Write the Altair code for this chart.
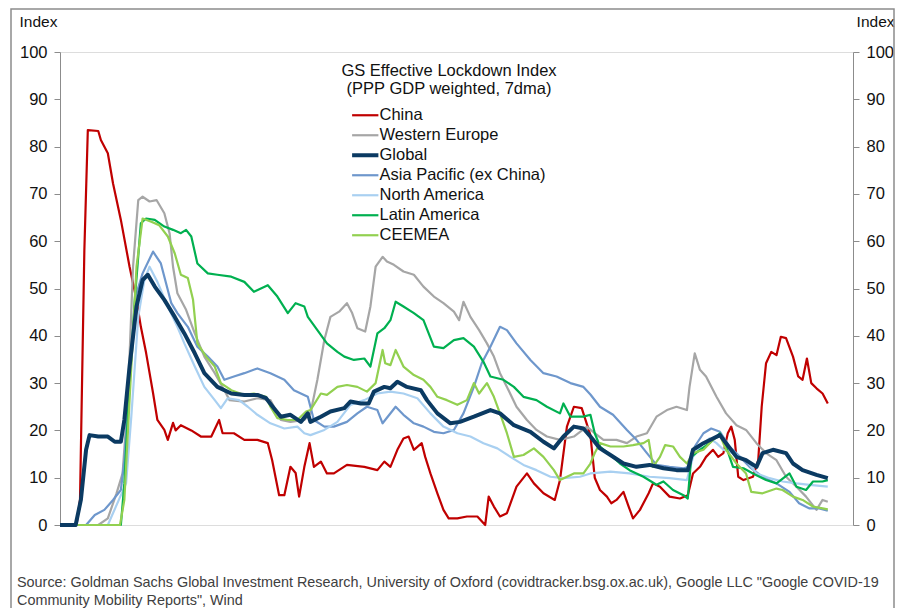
import altair as alt
import pandas as pd

START = pd.Timestamp("2020-01-01")

# Legend / series order, colours and line widths
SERIES = ["China", "Western Europe", "Global", "Asia Pacific (ex China)",
          "North America", "Latin America", "CEEMEA"]
COLORS = ["#C00000", "#A6A6A6", "#0B3A62", "#6E97CC", "#A9D0F1", "#00B050", "#92D050"]
WIDTHS = [2.2, 2.2, 4.0, 2.2, 2.2, 2.2, 2.2]

# Days since 1 Jan 2020 and index values
china_day = [0, 19, 23, 28, 32, 44, 47, 55, 61, 70, 80, 88, 93, 99, 107, 112, 120, 124, 130, 133,
             139, 151, 162, 174, 183, 187, 200, 212, 227, 239, 244, 252, 258, 265, 271, 275, 281, 287, 292, 300,
             307, 315, 330, 350, 365, 373, 380, 388, 395, 401, 407, 416, 420, 426, 434, 441, 447, 457, 468, 480,
             489, 493, 499, 506, 514, 525, 537, 545, 556, 569, 575, 583, 591, 600, 610, 615, 621, 629, 634, 640,
             648, 654, 659, 667, 677, 682, 690, 701, 713, 722, 728, 736, 743, 751, 757, 763, 768, 772, 776, 780,
             786, 797, 803, 807, 812, 818, 824, 829, 835, 843, 849, 854, 859, 864, 870, 877, 883]
china_val = [0, 0, 5.3, 58, 83.5, 83.3, 81.4, 78.6, 72.2, 64.5, 54.6, 47.6, 41.9, 36.4, 27.9, 22.2, 20.1, 18, 21.6, 20,
             21.1, 20, 18.7, 18.7, 22.2, 19.4, 19.4, 18, 18, 17.3, 13.7, 6.3, 6.3, 12.3, 11, 6, 12.3, 17.3, 12.3, 13.4,
             10.9, 10.9, 12.7, 12.3, 11.6, 13.4, 12.3, 15.9, 18.3, 18.7, 15.9, 17.3, 14.4, 10.9, 6.7, 3.2, 1.4, 1.4, 1.8, 1.8,
             0, 6, 3.9, 1.8, 2.5, 8.1, 10.9, 8.8, 6.7, 5.3, 9.5, 20.8, 25, 24.7, 19, 10, 7.4, 6, 4.6, 5.3,
             7, 3.9, 1.4, 3.2, 6.7, 8.8, 8.1, 6, 5.6, 6.3, 10.9, 12.3, 14.4, 15.9, 14.4, 15.2, 19.4, 20.8, 18, 10.2,
             9.5, 10.2, 13.7, 25, 34.2, 36.6, 35.9, 39.8, 39.5, 35.6, 31.4, 30.7, 35.2, 30, 28.9, 27.8, 25.7]

global_day = [0, 18, 24, 30, 34, 44, 55, 63, 70, 74, 80, 88, 95, 101, 109, 120, 132, 143, 155, 166,
              181, 197, 212, 227, 237, 246, 254, 265, 277, 285, 288, 300, 311, 327, 334, 346, 355, 361, 373, 380,
              388, 399, 415, 422, 434, 449, 460, 476, 495, 506, 522, 541, 556, 568, 579, 591, 602, 610, 621, 633,
              648, 663, 678, 694, 709, 722, 728, 740, 751, 759, 766, 778, 789, 801, 808, 820, 835, 843, 854, 870, 883]
global_val = [0, 0, 5.3, 15.9, 19, 18.7, 18.7, 17.6, 17.6, 22.2, 33.5, 46.2, 51.8, 52.9, 50.4, 47.6, 44, 40.5, 36.3, 32.1,
              29.2, 27.8, 27.5, 27.5, 26.8, 24.7, 22.9, 23.3, 21.8, 23.6, 21.8, 22.9, 24, 24.7, 26.1, 25.7, 25.7, 28.2, 29.2, 28.9,
              30.3, 29.2, 28.5, 26.4, 23.6, 21.5, 21.8, 22.9, 24.3, 23.6, 21.1, 19.7, 17.6, 16.2, 18.7, 20.8, 20.4, 18.7, 16.2, 14.8,
              13, 12.3, 12.7, 12, 11.6, 11.6, 15.9, 17.3, 18.3, 19, 17.3, 14.4, 13.7, 12.3, 15.2, 15.9, 15.2, 13, 11.6, 10.6, 9.9]

weu_day = [0, 44, 55, 65, 72, 78, 84, 90, 95, 103, 111, 120, 126, 130, 135, 145, 155, 166, 178, 189,
           195, 212, 227, 242, 254, 265, 281, 288, 296, 304, 311, 321, 330, 336, 342, 351, 357, 363, 371, 376,
           384, 395, 407, 418, 430, 441, 453, 459, 464, 472, 482, 491, 499, 506, 514, 525, 537, 548, 560, 575,
           591, 606, 615, 625, 640, 652, 663, 675, 686, 698, 709, 721, 724, 730, 736, 743, 755, 766, 778, 789,
           801, 812, 824, 835, 847, 858, 870, 877, 883]
weu_val = [0, 0, 1.4, 6.7, 10.9, 26.4, 54.6, 68.7, 69.4, 68.4, 68.7, 65.9, 61.7, 54.6, 49, 45.5, 40.5, 35.6, 32.1, 28.5,
           26.4, 26.1, 26.8, 26.4, 22.2, 21.8, 22.2, 23.6, 30.7, 39.1, 44, 45.1, 46.9, 44.8, 41.6, 40.9, 46.2, 54.6, 56.7, 55.7,
           55, 53.6, 52.9, 50.4, 48.3, 46.9, 45.1, 43.3, 47.2, 44, 41.2, 38.4, 35.6, 32.1, 29.2, 25, 22.2, 20.1, 18.7, 18,
           18.7, 20.8, 19.4, 18, 18, 17.3, 18.7, 19.4, 22.9, 24.3, 25, 24.3, 29.2, 36.3, 32.8, 31.4, 27.1, 23.6, 21.1, 20.1,
           17.3, 15.2, 13.7, 10.2, 8.1, 6, 3.2, 5.3, 4.9]

apac_day = [0, 30, 40, 51, 61, 70, 74, 80, 88, 95, 107, 116, 128, 135, 147, 158, 170, 181, 189, 200,
            212, 227, 242, 258, 269, 285, 292, 304, 315, 330, 342, 353, 365, 371, 386, 395, 407, 418, 430, 441,
            453, 464, 476, 485, 495, 506, 514, 525, 541, 556, 571, 587, 602, 610, 621, 636, 652, 663, 675, 686,
            701, 717, 724, 730, 740, 749, 759, 770, 782, 793, 808, 824, 839, 850, 862, 873, 883]
apac_val = [0, 0, 2.1, 3.2, 5.3, 7.4, 13.7, 30, 49, 53.2, 57.8, 55.3, 46.9, 44.8, 41.9, 37.7, 35.6, 33.5, 30.7, 31.4,
            32.1, 33.1, 32.1, 30.7, 28.5, 27.1, 22.2, 20.8, 20.8, 21.8, 23.6, 25, 24.3, 21.5, 25, 23.3, 21.5, 20.8, 19.7, 19.4,
            20.1, 23.6, 29.2, 34.2, 37.7, 41.9, 41.2, 38.4, 34.9, 32.1, 31.4, 30, 29.2, 27.6, 25, 23.3, 20.1, 18, 15.2, 12.7,
            12.3, 12, 12.3, 16.6, 19.4, 20.4, 19.7, 16.6, 14.4, 12.3, 10.2, 8.8, 7, 4.6, 3.5, 3.5, 3]

nam_day = [0, 55, 76, 82, 90, 97, 103, 112, 124, 135, 143, 155, 166, 178, 185, 193, 206, 216, 227, 242,
           258, 273, 281, 288, 304, 319, 334, 350, 365, 380, 395, 411, 426, 441, 457, 472, 487, 503, 518, 533,
           548, 564, 579, 598, 610, 633, 655, 678, 701, 721, 728, 740, 747, 755, 763, 774, 789, 801, 816, 831,
           847, 862, 883]
nam_val = [0, 0, 8.8, 22.9, 44, 51.8, 54.6, 51.4, 46.2, 41.9, 38.4, 33.5, 29.2, 26.4, 24.7, 26.8, 26.4, 25, 23.3, 21.5,
           20.4, 20.8, 19.4, 19, 20.1, 21.8, 25.4, 26.4, 27.8, 28.2, 27.8, 26.8, 23.6, 20.8, 19.4, 18.7, 17.3, 16.2, 14.4, 12.7,
           11.6, 10.2, 9.9, 10.2, 10.9, 11.3, 10.9, 10.2, 9.9, 9.5, 14.4, 17.3, 18.3, 17.3, 15.9, 15.2, 13.7, 10.9, 9.9, 9.2,
           8.8, 8.5, 8.1]

latam_day = [0, 70, 74, 80, 86, 93, 99, 109, 120, 130, 139, 145, 151, 158, 170, 181, 197, 212, 223, 239,
             250, 262, 271, 281, 285, 296, 307, 319, 327, 338, 350, 357, 365, 373, 380, 386, 395, 407, 418, 430,
             441, 453, 464, 476, 487, 495, 510, 522, 533, 548, 560, 575, 579, 587, 602, 610, 615, 621, 633, 644,
             655, 671, 686, 694, 705, 717, 722, 726, 736, 747, 759, 766, 774, 786, 797, 812, 824, 839, 847, 858,
             866, 877, 883]
latam_val = [0, 0, 8.8, 30, 47.6, 63.8, 64.8, 64.5, 63.1, 62.4, 61.7, 62.4, 61, 55.3, 53.2, 52.9, 52.5, 51.4, 49.3, 50.7,
             48.3, 44.8, 46.9, 46.2, 44, 41.2, 38.4, 36.6, 35.6, 34.9, 35.2, 33.5, 40.5, 41.6, 43.3, 47.2, 46.2, 44.8, 43.3, 37.7,
             37.4, 39.1, 39.5, 37.7, 34.5, 31.4, 30.7, 29.2, 27.1, 26.4, 25, 23.6, 25.7, 22.9, 22.9, 23.3, 19.4, 16.6, 14.8, 13,
             11.6, 10.2, 8.5, 9.2, 7.4, 6.3, 5.6, 14.4, 15.9, 17.3, 19.4, 16.6, 12.3, 12, 10.9, 9.5, 8.8, 10.9, 8.1, 7.4,
             9.2, 9.2, 9.5]

ceemea_day = [0, 69, 74, 80, 88, 95, 105, 114, 124, 132, 139, 147, 153, 158, 168, 178, 185, 197, 212, 223,
              237, 242, 250, 262, 273, 283, 288, 300, 307, 319, 330, 342, 353, 363, 371, 374, 380, 386, 395, 407,
              418, 426, 434, 445, 457, 468, 476, 482, 491, 499, 506, 514, 522, 533, 545, 556, 568, 575, 583, 591,
              602, 610, 615, 621, 633, 648, 659, 671, 677, 682, 690, 696, 705, 713, 721, 728, 740, 751, 759, 766,
              778, 789, 795, 808, 824, 831, 843, 854, 866, 877, 883]
ceemea_val = [0, 0, 5.3, 26.4, 54.6, 64.8, 64.1, 63.4, 61, 57.4, 52.9, 52.2, 47.6, 38.4, 35.6, 33.5, 30, 28.5, 27.5, 27.8,
              27.1, 25, 22.6, 22.2, 22.2, 24, 24.3, 27.8, 27.5, 29.2, 29.6, 29.2, 28.2, 30, 37, 34.2, 33.8, 37, 33.5, 31.7,
              30.7, 29.2, 27.1, 26.4, 25.4, 26.4, 30, 27.8, 30, 27.1, 23.6, 19.4, 14.4, 14.8, 16.2, 14.4, 11.6, 9.5, 10.2, 10.9,
              10.9, 13, 15.2, 17.3, 16.6, 16.6, 16.9, 17.3, 18, 12.3, 14.4, 16.9, 16.6, 14.4, 13, 15.2, 15.9, 18, 19, 15.9,
              13, 10.9, 7, 6.7, 7.7, 7.4, 6, 5.3, 3.9, 3.5, 3.3]

DATA = {
    "China": (china_day, china_val),
    "Western Europe": (weu_day, weu_val),
    "Asia Pacific (ex China)": (apac_day, apac_val),
    "North America": (nam_day, nam_val),
    "Latin America": (latam_day, latam_val),
    "CEEMEA": (ceemea_day, ceemea_val),
    "Global": (global_day, global_val),
}

TICKS = [(2020, 1), (2020, 4), (2020, 7), (2020, 10), (2021, 1), (2021, 4), (2021, 7),
         (2021, 10), (2022, 1), (2022, 4), (2022, 7)]
Y_TICKS = list(range(0, 101, 10))

LEGEND_TITLE = ["GS Effective  Lockdown  Index", "(PPP GDP weighted,  7dma)"]
SOURCE = ('Source: Goldman Sachs Global Investment Research, University of Oxford (covidtracker.bsg.ox.ac.uk), '
          'Google LLC "Google COVID-19\nCommunity Mobility Reports", Wind')

rows = []
for name, (days, vals) in DATA.items():
    for d, v in zip(days, vals):
        rows.append({"series": name,
                     "date": (START + pd.Timedelta(days=d)).strftime("%Y-%m-%dT00:00:00"),
                     "value": v})
df = pd.DataFrame(rows)

FONT = "Liberation Sans"
TXT = "#111111"
AX = "#8C8C8C"

xscale = alt.Scale(domain=[alt.DateTime(year=2020, month=1, date=1),
                           alt.DateTime(year=2022, month=7, date=1)])
yscale = alt.Scale(domain=[0, 100])

common_axis = dict(values=Y_TICKS, tickSize=6, grid=False,
                   domainColor=AX, tickColor=AX, labelFont=FONT, labelFontSize=16.5,
                   labelColor=TXT, labelFlush=False, title="Index", titleAngle=0,
                   titleBaseline="middle", titleY=-31, titleFont=FONT, titleFontSize=15.5,
                   titleFontWeight="normal", titleColor=TXT)

legend = alt.Legend(
    title=LEGEND_TITLE, orient="none", legendX=277, legendY=10.5,
    titleFont=FONT, titleFontSize=16.5, titleFontWeight="normal", titleColor=TXT,
    titleAlign="center", titleAnchor="middle", titleLineHeight=18, titlePadding=10,
    titleLimit=0, labelLimit=0,
    labelFont=FONT, labelFontSize=16.5, labelColor=TXT,
    symbolType="M-2.39,0H2.39", symbolSize=121, symbolOffset=4, labelOffset=6,
    rowPadding=3, padding=0,
)

lines = alt.Chart(df).mark_line(strokeJoin="round").encode(
    x=alt.X("date:T", scale=xscale,
            axis=alt.Axis(values=[alt.DateTime(year=y, month=m, date=1) for y, m in TICKS],
                          labelExpr="datum.value >= time(datetime(2022, 5, 1)) ? '' : timeFormat(datum.value, '%b-%y')",
                          tickSize=6, labelPadding=5, title=None, grid=False,
                          domainColor=AX, tickColor=AX, labelFont=FONT, labelFontSize=16.5,
                          labelColor=TXT, labelFlush=False, labelOverlap=False)),
    y=alt.Y("value:Q", scale=yscale,
            axis=alt.Axis(orient="left", titleX=-41, titleAlign="left", labelPadding=7,
                          **common_axis)),
    color=alt.Color("series:N", scale=alt.Scale(domain=SERIES, range=COLORS), legend=legend),
    strokeWidth=alt.StrokeWidth("series:N",
                                scale=alt.Scale(type="ordinal", domain=SERIES, range=WIDTHS),
                                legend=legend),
)

right = alt.Chart(df).mark_line(strokeOpacity=0).encode(
    x=alt.X("date:T", scale=xscale, axis=None),
    y=alt.Y("value:Q", scale=yscale,
            axis=alt.Axis(orient="right", titleX=41, titleAlign="right", labelPadding=7,
                          **common_axis)),
    detail="series:N",
)

frame = alt.Chart(pd.DataFrame({"k": [0]})).mark_rect(
    fillOpacity=0, stroke="#8C8C8C", strokeWidth=1.5
).encode(x=alt.value(-49), x2=alt.value(834), y=alt.value(-43), y2=alt.value(570))

source = alt.Chart(pd.DataFrame({"t": [SOURCE]})).mark_text(
    align="left", baseline="top", font=FONT, fontSize=14.4, color="#404040",
    lineBreak="\n", lineHeight=18
).encode(text="t:N", x=alt.value(-43), y=alt.value(524))

chart = alt.layer(frame, lines, right, source).resolve_scale(y="independent").properties(
    width=793, height=473,
    autosize=alt.AutoSizeParams(type="none"),
    padding={"left": 52, "top": 44, "right": 42, "bottom": 83},
).configure_view(stroke="#999999", strokeWidth=1).configure(background="white")

chart.save("out.html", embed_options={"renderer": "svg", "actions": False})
